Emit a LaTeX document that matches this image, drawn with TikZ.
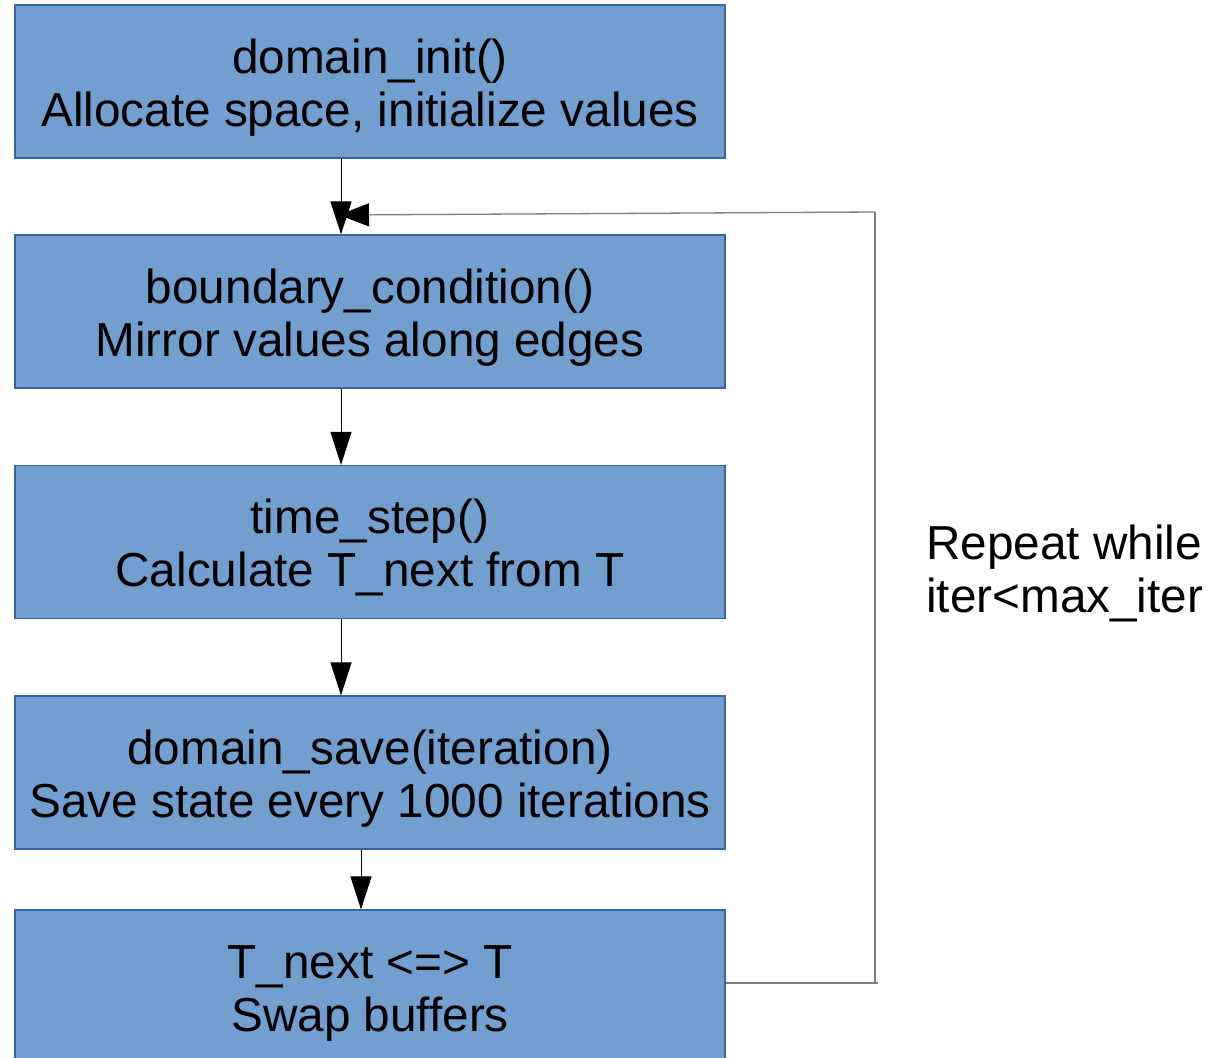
\documentclass[tikz,border=0pt]{standalone}
\usepackage{fontspec}
\setmainfont{Liberation Sans}
\usetikzlibrary{arrows.meta}
\definecolor{boxfill}{HTML}{729FCF}
\definecolor{boxline}{HTML}{3465A4}
\definecolor{loopline}{HTML}{7F7F7F}
% invisible strut that sets the height of a first text line
\newcommand{\firstline}[1][46pt]{\rule{0pt}{#1}}
\begin{document}
\begin{tikzpicture}[x=1pt,y=-1pt,
  stage/.style={draw=boxline,fill=boxfill,line width=1.2pt,
    minimum width=710pt,minimum height=153pt,inner sep=0pt,
    align=center,font=\fontsize{47.7}{53}\selectfont},
  flow/.style={line width=1pt,-{Triangle[length=33pt,width=21pt]}},
  back/.style={draw=loopline,line width=1.3pt},
  backtip/.style={-{Triangle[length=30pt,width=23pt,color=black]}},
  note/.style={align=left,font=\fontsize{47.7}{53}\selectfont,inner sep=0pt}]
\useasboundingbox (0,0) rectangle (1219,1058);
% processing stages
\node[stage] (init) at (370,81.5) {\firstline domain\_init()\\Allocate space, initialize values};
\node[stage] (bc) at (370,311.5) {\firstline boundary\_condition()\\Mirror values along edges};
\node[stage] (step) at (370,542) {\firstline time\_step()\\Calculate T\_next from T};
\node[stage] (save) at (370,772.5) {\firstline domain\_save(iteration)\\Save state every 1000 iterations};
\node[stage,minimum height=150pt] (swap) at (370,985) {\firstline[50pt]T\_next <=> T\\Swap buffers};
% forward flow
\draw[flow] (init.south -| 341,0) -- (bc.north -| 341,0);
\draw[flow] (bc.south -| 341,0) -- (step.north -| 341,0);
\draw[flow] (step.south -| 341,0) -- (save.north -| 341,0);
\draw[flow] (save.south -| 361,0) -- (swap.north -| 361,0);
% loop back to the boundary condition
\coordinate (loopbot) at (875,983);
\coordinate (looptop) at (875,212);
\coordinate (loopend) at (339,215);
\draw[back] (swap.east |- loopbot) -- (878,983);
\draw[back] (loopbot) -- (looptop);
\draw[back,backtip] (looptop) -- (loopend);
\node[note,anchor=west] (rep) at (926,573) {Repeat while\\iter<max\_iter};
\end{tikzpicture}
\end{document}
